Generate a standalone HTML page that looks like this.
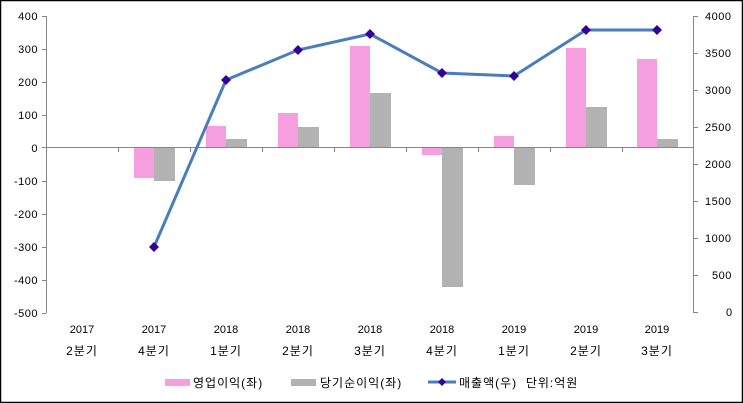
<!DOCTYPE html>
<html><head><meta charset="utf-8"><style>
html,body{margin:0;padding:0;background:#fff}
svg{display:block}
text{font-family:"Liberation Sans","Noto Sans CJK KR","NanumGothic",sans-serif;font-size:11px;fill:#000}
.k{font-size:12px;letter-spacing:1px}
</style></head><body>
<svg width="743" height="403" viewBox="0 0 743 403" xmlns="http://www.w3.org/2000/svg">
<rect x="0.5" y="0.5" width="742" height="402" fill="#fff" stroke="#000" stroke-width="1.5"/>
<g id="bars">
<rect x="134" y="148" width="20" height="30" fill="#f59ee0"/>
<rect x="154" y="148" width="21" height="33" fill="#b2b2b2"/>
<rect x="206" y="126" width="20" height="22" fill="#f59ee0"/>
<rect x="226" y="139" width="21" height="9" fill="#b2b2b2"/>
<rect x="278" y="113" width="20" height="35" fill="#f59ee0"/>
<rect x="298" y="127" width="21" height="21" fill="#b2b2b2"/>
<rect x="350" y="46" width="20" height="102" fill="#f59ee0"/>
<rect x="370" y="93" width="21" height="55" fill="#b2b2b2"/>
<rect x="422" y="148" width="20" height="7" fill="#f59ee0"/>
<rect x="442" y="148" width="21" height="139" fill="#b2b2b2"/>
<rect x="494" y="136" width="20" height="12" fill="#f59ee0"/>
<rect x="514" y="148" width="21" height="37" fill="#b2b2b2"/>
<rect x="566" y="48" width="20" height="100" fill="#f59ee0"/>
<rect x="586" y="107" width="21" height="41" fill="#b2b2b2"/>
<rect x="637" y="59" width="20" height="89" fill="#f59ee0"/>
<rect x="657" y="139" width="21" height="9" fill="#b2b2b2"/>
</g>
<g stroke="#868686" stroke-width="1" fill="none">
<line x1="46.5" y1="16" x2="46.5" y2="313"/>
<line x1="46.5" y1="147.5" x2="694" y2="147.5"/>
<line x1="693.5" y1="16" x2="693.5" y2="313"/>
<path d="M42 16.5H46M42 49.5H46M42 82.5H46M42 115.5H46M42 147.5H46M42 181.5H46M42 214.5H46M42 247.5H46M42 280.5H46M42 313.5H46"/>
<path d="M694 16.5H698M694 53.5H698M694 90.5H698M694 127.5H698M694 164.5H698M694 201.5H698M694 238.5H698M694 275.5H698M694 312.5H698"/>
<path d="M118.5 148V152M190.5 148V152M262.5 148V152M334.5 148V152M406.5 148V152M478.5 148V152M550.5 148V152M622.5 148V152"/>
</g>
<polyline points="154,247 226,80 298,50 370,34 442,73 514,76 586,30 657,30" fill="none" stroke="#4a7ebb" stroke-width="3"/>
<g fill="#330099">
<path d="M154 242l5 5-5 5-5-5z"/><path d="M226 75l5 5-5 5-5-5z"/><path d="M298 45l5 5-5 5-5-5z"/><path d="M370 29l5 5-5 5-5-5z"/><path d="M442 68l5 5-5 5-5-5z"/><path d="M514 71l5 5-5 5-5-5z"/><path d="M586 25l5 5-5 5-5-5z"/><path d="M657 25l5 5-5 5-5-5z"/>
</g>
<g text-anchor="end" style="letter-spacing:0.5px">
<text x="38" y="20">400</text><text x="38" y="53">300</text><text x="38" y="86">200</text><text x="38" y="119">100</text><text x="38" y="152">0</text><text x="38" y="185">-100</text><text x="38" y="218">-200</text><text x="38" y="251">-300</text><text x="38" y="284">-400</text><text x="38" y="317">-500</text>
</g>
<g style="letter-spacing:0.5px">
<text x="705" y="20">4000</text><text x="705" y="57">3500</text><text x="705" y="94">3000</text><text x="705" y="131">2500</text><text x="705" y="168">2000</text><text x="705" y="205">1500</text><text x="705" y="242">1000</text><text x="712" y="279">500</text><text x="726" y="316">0</text>
</g>
<g text-anchor="middle">
<text x="82" y="333">2017</text><text class="k" x="82" y="355">2분기</text>
<text x="154" y="333">2017</text><text class="k" x="154" y="355">4분기</text>
<text x="226" y="333">2018</text><text class="k" x="226" y="355">1분기</text>
<text x="298" y="333">2018</text><text class="k" x="298" y="355">2분기</text>
<text x="370" y="333">2018</text><text class="k" x="370" y="355">3분기</text>
<text x="442" y="333">2018</text><text class="k" x="442" y="355">4분기</text>
<text x="514" y="333">2019</text><text class="k" x="514" y="355">1분기</text>
<text x="586" y="333">2019</text><text class="k" x="586" y="355">2분기</text>
<text x="657" y="333">2019</text><text class="k" x="657" y="355">3분기</text>
</g>
<rect x="165" y="379" width="25" height="7" fill="#f59ee0"/>
<text class="k" x="193" y="387">영업이익(좌)</text>
<rect x="291" y="379" width="25" height="7" fill="#b2b2b2"/>
<text class="k" x="320" y="387">당기순이익(좌)</text>
<line x1="428" y1="382" x2="456" y2="382" stroke="#4a7ebb" stroke-width="3"/>
<path d="M442 378l4 4-4 4-4-4z" fill="#330099"/>
<text class="k" x="459" y="387" xml:space="preserve">매출액(우)  단위:억원</text>
</svg>
</body></html>
